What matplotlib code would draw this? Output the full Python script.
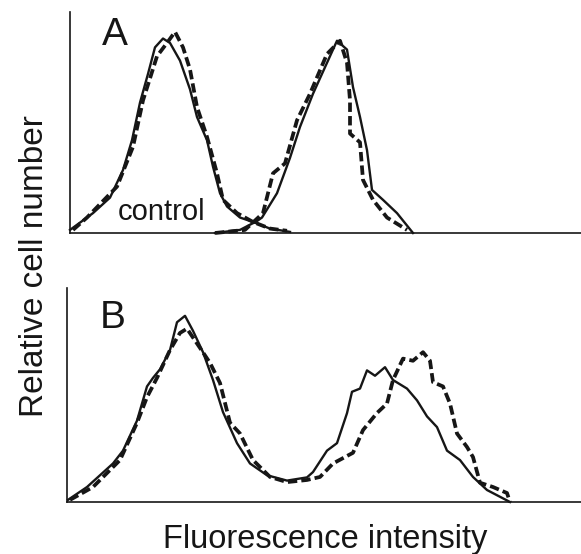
import matplotlib.pyplot as plt

# flow histograms, x = channel (0-255), y = relative cell number (axis top = 100)
# panel A
a_ctrl_solid_x = [0, 11.5, 20, 26.5, 31, 35, 39, 42.5, 46.5, 50, 55, 60, 63.5, 68.5, 71.5, 75, 78.5, 85, 91.5, 100, 110]
a_ctrl_solid_y = [1.4, 9, 16, 28.5, 42, 59, 72, 84, 88, 86, 78, 65, 52.5, 42, 30, 18, 12, 7, 5, 2, 0.5]
a_ctrl_dash_x = [1.5, 8.5, 23.5, 31.5, 36.5, 43.5, 48.5, 52.5, 56.5, 60, 63.5, 68.5, 73.5, 76.5, 83.5, 91.5, 100, 108.5]
a_ctrl_dash_y = [1.4, 7, 21, 39, 60, 80, 86, 91, 84, 74, 57, 43.5, 27, 15, 9, 5, 2, 1]
a_stain_solid_x = [72.5, 85, 93.5, 96, 103.5, 110, 115, 121.5, 128.5, 133.5, 138.5, 141.5, 145, 148.5, 151, 156.5, 163.5, 171.5]
a_stain_solid_y = [0, 1.4, 5.4, 7, 18, 34, 48, 63, 77, 87, 83, 66, 52.5, 37.5, 19.5, 15, 9, 0]
a_stain_dash_x = [72.5, 87.5, 96.5, 101.5, 107.5, 113.5, 120, 128.5, 135, 138.5, 140, 140, 145, 146.5, 151.5, 158.5, 168.5]
a_stain_dash_y = [0, 1.4, 9, 27, 31.5, 51, 63, 81, 87, 77, 60, 45, 41, 24, 15, 7, 1.4]

# panel B
b_solid_x = [0.5, 10, 23, 28, 35, 40, 43, 46.5, 51.5, 55, 59, 63, 68, 73, 78, 85, 91.5, 100, 110, 120,
             123, 130, 135, 140, 142.5, 146.5, 150, 154, 159, 163, 170, 175, 180, 185, 190, 196.5, 203, 210, 221.5]
b_solid_y = [1, 7, 18, 24, 38, 54, 58, 62, 71, 84, 87, 80, 70, 57, 42, 27.5, 18, 12.5, 10, 11.5,
             14, 24, 27.5, 41.5, 51.5, 53, 61.5, 59, 63, 57, 53, 47.5, 40, 35, 24, 19.6, 11.7, 5.6, 0]
b_dash_x = [1.5, 13, 26.5, 35, 40, 45, 51.5, 56.5, 60, 66.5, 71.5, 76.5, 81.5, 86.5, 93, 101.5, 110, 120,
            126.5, 133, 143, 148, 155, 160, 163, 168, 173, 178, 181.5, 183, 188, 191.5, 195, 200, 203, 206.5, 213, 220, 221.5]
b_dash_y = [1, 7, 19.6, 37, 49, 58, 71, 79, 81, 72, 65, 55.6, 37, 32, 19.6, 11.7, 9.3, 10.3,
            11.7, 18, 23, 33.6, 41.6, 46, 57, 67, 66, 70, 66, 56, 54, 46, 32, 25.7, 21, 9, 7, 4.2, 0]

ink = '#161616'
dash_style = dict(color=ink, lw=2.7, dashes=(2.5, 1.1), solid_joinstyle='round', dash_capstyle='butt')
solid_style = dict(color=ink, lw=1.7, solid_joinstyle='round')
font = ['Liberation Sans', 'DejaVu Sans']

fig = plt.figure(figsize=(5.81, 5.54), dpi=100)
fig.set_facecolor('white')

axA = fig.add_axes([70/581, (554-233)/554, 511/581, 221/554])
axB = fig.add_axes([67/581, (554-502)/554, 514/581, 214/554])

axA.plot(a_ctrl_solid_x, a_ctrl_solid_y, **solid_style)
axA.plot(a_ctrl_dash_x, a_ctrl_dash_y, **dash_style)
axA.plot(a_stain_solid_x, a_stain_solid_y, **solid_style)
axA.plot(a_stain_dash_x, a_stain_dash_y, **dash_style)
axA.set_xlim(0, 255.5)

axB.plot(b_solid_x, b_solid_y, **solid_style)
axB.plot(b_dash_x, b_dash_y, **dash_style)
axB.set_xlim(0, 257)

for ax in (axA, axB):
    ax.set_ylim(0, 100)
    ax.set_facecolor('none')
    ax.spines['top'].set_visible(False)
    ax.spines['right'].set_visible(False)
    for s in ('left', 'bottom'):
        ax.spines[s].set_color(ink)
        ax.spines[s].set_linewidth(1.2)
    ax.set_xticks([])
    ax.set_yticks([])
    for ln in ax.lines:
        ln.set_clip_on(False)

axA.text(22.5, 89.6, 'A', fontsize=28, ha='center', va='center', family=font, color=ink)
axB.text(23, 86, 'B', fontsize=28, ha='center', va='center', family=font, color=ink)
axA.text(24, 5.9, 'control', fontsize=21, ha='left', va='baseline', family=font, color=ink)

fig.text(325/581, 6/554, 'Fluorescence intensity', fontsize=23.5, ha='center', va='baseline',
         family=font, color=ink)
fig.text(43/581, (554-266)/554, 'Relative cell number', fontsize=24, rotation=90,
         rotation_mode='anchor', ha='center', va='baseline', family=font, color=ink)

plt.savefig('out.png', dpi=100, facecolor='white')
